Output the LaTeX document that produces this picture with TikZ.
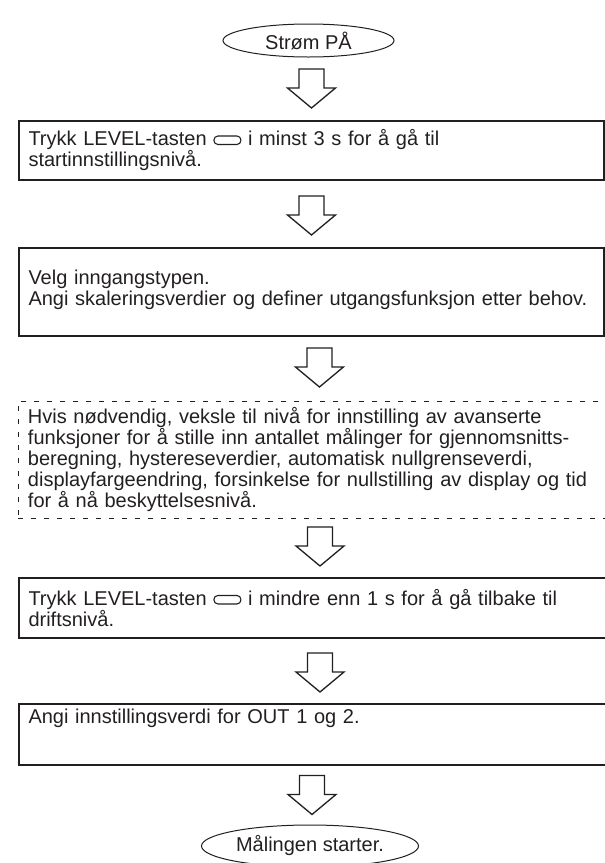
\documentclass[tikz,border=0pt]{standalone}
\usepackage{fontspec}
\setmainfont{Liberation Sans}
\usetikzlibrary{shapes.geometric,calc}
\definecolor{ink}{HTML}{231F20}
\newcommand{\keyicon}{\tikz[x=1pt,y=1pt,baseline=0pt]\draw[ink,line width=1.1pt,rounded corners=4pt] (0,1.5) rectangle (27,10);}
\begin{document}
\begin{tikzpicture}[x=1pt,y=-1pt,
  every node/.style={text=ink, font=\fontsize{20}{21}\selectfont},
  term/.style={ellipse, draw=ink, line width=1pt, inner sep=0pt},
  stepbox/.style={draw=ink, line width=2pt, rectangle, anchor=north west,
    minimum width=585, text width=566, inner xsep=9.5, align=left},
  openbox/.style={stepbox, minimum width=602, text width=583},
  optbox/.style={openbox, line width=0.9pt, dash pattern=on 5pt off 8pt},
  blk/.style={draw=ink, line width=1.3pt, fill=white, line join=miter},
]
\useasboundingbox (0,0) rectangle (605,863);
\clip (0,0) rectangle (605,863);

\node[term, minimum width=171, minimum height=33] (s) at (308.5,40.5) {Strøm PÅ};

\node[stepbox, minimum height=59] (b1) at (18,120)
  {Trykk LEVEL-tasten \keyicon{} i minst 3 s for å gå til\\startinnstillingsnivå.};

\node[stepbox, minimum height=88] (b2) at (18,247)
  {Velg inngangstypen.\\Angi skaleringsverdier og definer utgangsfunksjon etter behov.\\[-12pt]\mbox{}};

\node[optbox, minimum height=117] (b3) at (18,401)
  {Hvis nødvendig, veksle til nivå for innstilling av avanserte\\
   funksjoner for å stille inn antallet målinger for gjennomsnitts-\\
   beregning, hystereseverdier, automatisk nullgrenseverdi,\\
   displayfargeendring, forsinkelse for nullstilling av display og tid\\
   for å nå beskyttelsesnivå.};

\node[openbox, minimum height=60] (b4) at (18,577)
  {Trykk LEVEL-tasten \keyicon{} i mindre enn 1 s for å gå tilbake til\\driftsnivå.};

\node[openbox, minimum height=61, inner ysep=0pt, text height=19pt, text depth=42pt] (b5) at (18,703)
  {Angi innstillingsverdi for OUT 1 og 2.};

\node[term, minimum width=217, minimum height=42] (e) at (310,846) {Målingen starter.};

\newcommand{\downblk}[1]{\draw[blk] ($(#1)+(-12.5,-39)$) -- ++(25,0) -- ++(0,19) -- ++(11.5,0) -- (#1) -- ++(-24,-20) -- ++(11.5,0) -- cycle;}

\coordinate (t1) at ($(b1.north)+(0,-12)$);
\coordinate (t2) at ($(b2.north)+(0,-12)$);
\coordinate (t3) at ($(b3.north)+(0,-14)$);
\coordinate (t4) at ($(b4.north)+(0,-11)$);
\coordinate (t5) at ($(b5.north)+(0,-11)$);
\coordinate (t6) at ($(e.north)+(2,-10)$);
\downblk{t1}
\downblk{t2}
\downblk{t3}
\downblk{t4}
\downblk{t5}
\downblk{t6}
\end{tikzpicture}
\end{document}
